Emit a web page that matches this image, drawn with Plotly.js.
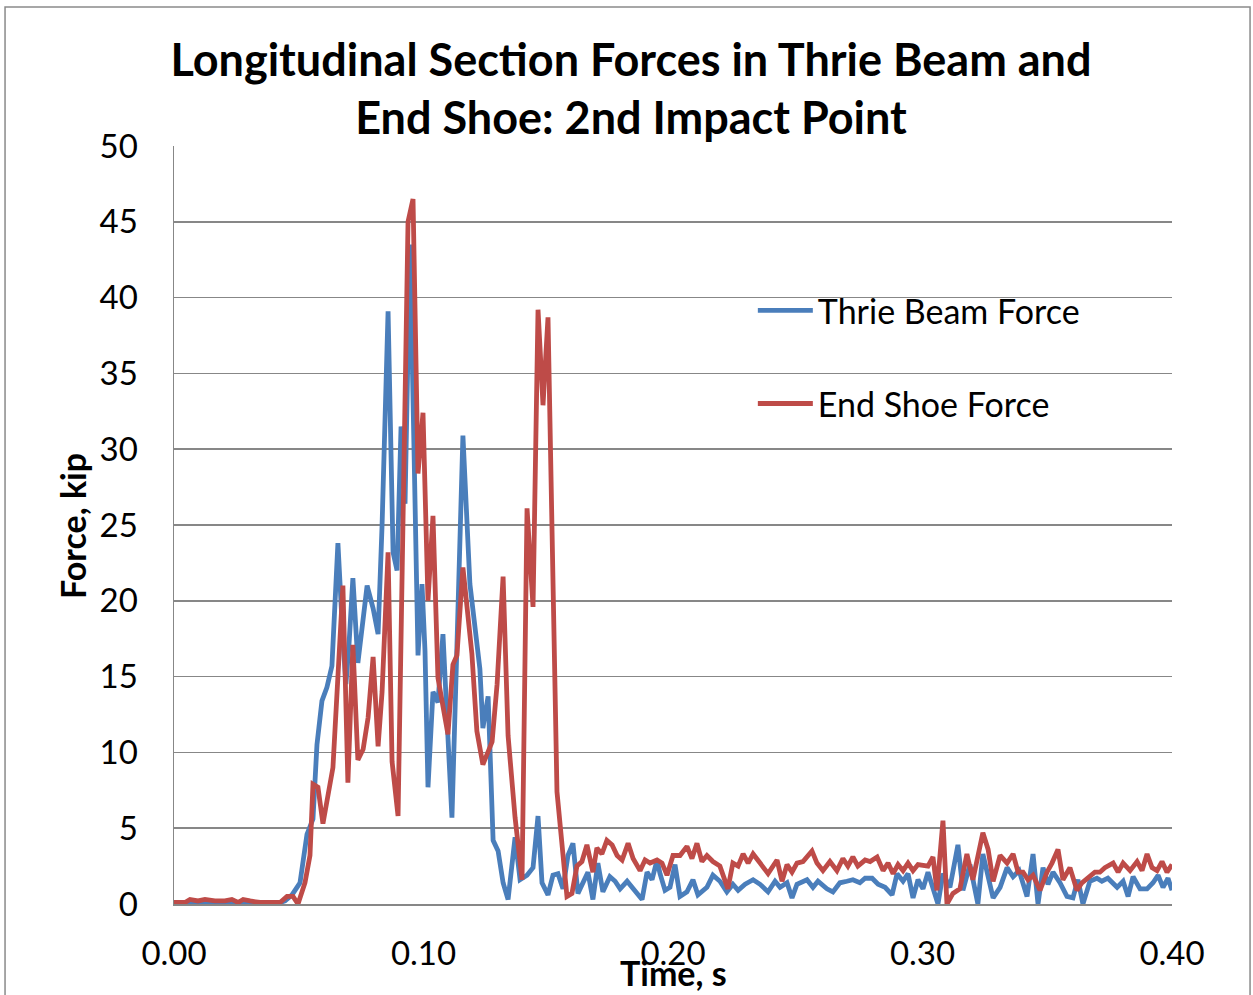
<!DOCTYPE html>
<html>
<head>
<meta charset="utf-8">
<script src="https://cdn.plot.ly/plotly-3.0.1.min.js"></script>
<style>html,body{margin:0;padding:0;background:#fff;}#chart{width:1253px;height:995px;}</style>
</head>
<body>
<div id="chart"></div>
<script>
// ---- Data ----
const chartTitle = "Longitudinal Section Forces in Thrie Beam and<br>End Shoe: 2nd Impact Point";
const xAxisTitle = "Time, s";
const yAxisTitle = "Force, kip";
const seriesNames = ["Thrie Beam Force", "End Shoe Force"];
const xTickVals = [0, 0.1, 0.2, 0.3, 0.4];
const xTickText = ["0.00", "0.10", "0.20", "0.30", "0.40"];
const yTickVals = [0, 5, 10, 15, 20, 25, 30, 35, 40, 45, 50];

const timeThrie = [0,0.0044,0.0084,0.0124,0.0164,0.0204,0.0244,0.0285,0.0325,0.0365,0.0405,0.0445,0.0473,0.0505,0.0533,0.0557,0.0573,0.0593,0.0613,0.0633,0.0657,0.0677,0.0689,0.0701,0.0717,0.0737,0.0754,0.0774,0.0798,0.0818,0.0834,0.0858,0.0878,0.0894,0.0910,0.0926,0.0946,0.0962,0.0978,0.0994,0.1006,0.1018,0.1038,0.1058,0.1078,0.1098,0.1114,0.1134,0.1158,0.1186,0.1226,0.1238,0.1259,0.1279,0.1299,0.1319,0.1339,0.1367,0.1387,0.1415,0.1439,0.1459,0.1475,0.1499,0.1519,0.1539,0.1559,0.1579,0.1599,0.1619,0.1639,0.1659,0.1679,0.1699,0.1719,0.1747,0.1768,0.1788,0.1816,0.1840,0.1876,0.1896,0.1916,0.1936,0.1948,0.1968,0.1988,0.2008,0.2028,0.2056,0.2080,0.2100,0.2136,0.2160,0.2188,0.2216,0.2240,0.2261,0.2289,0.2321,0.2349,0.2381,0.2409,0.2429,0.2457,0.2477,0.2497,0.2537,0.2561,0.2581,0.2617,0.2641,0.2669,0.2697,0.2721,0.2749,0.2770,0.2798,0.2822,0.2850,0.2878,0.2898,0.2922,0.2942,0.2962,0.2982,0.3002,0.3022,0.3062,0.3082,0.3110,0.3142,0.3162,0.3190,0.3222,0.3242,0.3263,0.3283,0.3311,0.3339,0.3363,0.3387,0.3419,0.3443,0.3463,0.3483,0.3503,0.3523,0.3551,0.3579,0.3603,0.3623,0.3643,0.3671,0.3699,0.3719,0.3743,0.3780,0.3804,0.3824,0.3844,0.3872,0.3900,0.3924,0.3944,0.3964,0.3984,0.4000];
const forceThrie = [0.1,0.0,0.1,0.05,0.1,0.0,0.1,0.05,0.0,0.05,0.0,0.2,0.6,1.4,4.6,5.6,10.5,13.4,14.3,15.7,23.8,17.5,14.5,17,21.5,15.9,18,21.0,19.5,17.8,25,39.1,23.2,22,31.5,26.4,43.5,28,16.4,21.1,16.7,7.7,14,13.3,17.8,11,5.7,17,30.9,21.1,15.5,11.6,13.7,4.2,3.5,1.4,0.3,4.4,1.6,1.9,2.4,5.8,1.4,0.6,1.9,2,1,3.2,4,0.7,1.4,2.1,0.3,2.7,0.8,1.8,1.5,1,1.5,1,0.3,2.1,1.6,2.9,2,0.9,1.1,2.6,0.5,0.8,1.6,0.6,1.1,1.9,1.5,0.8,1.3,0.9,1.3,1.6,1.3,0.8,1.5,1.1,1.4,0.4,1.3,1.6,1.1,1.5,1,0.8,1.4,1.5,1.6,1.4,1.7,1.7,1.3,1.1,0.6,2,1.5,2,0.4,1.6,1,2.1,0,2,1.1,3.9,0.9,2.6,0,3.3,1.9,0.4,1.1,2.4,1.8,2.2,0.5,3.3,0,2.4,1.3,2.1,1.4,0.5,0.4,1.6,0,1.5,1.7,1.5,1.7,1.1,1.5,0.5,1.8,1,1,1.4,1.9,1.1,1.7,0.9];

const timeShoe = [0,0.0044,0.0064,0.0096,0.0124,0.0164,0.0204,0.0232,0.0257,0.0277,0.0305,0.0345,0.0385,0.0425,0.0453,0.0477,0.0497,0.0525,0.0545,0.0557,0.0577,0.0597,0.0637,0.0677,0.0697,0.0717,0.0737,0.0758,0.0778,0.0798,0.0818,0.0834,0.0858,0.0874,0.0898,0.0922,0.0938,0.0958,0.0978,0.0998,0.1018,0.1038,0.1058,0.1098,0.1118,0.1134,0.1158,0.1194,0.1214,0.1238,0.1275,0.1295,0.1319,0.1339,0.1367,0.1395,0.1415,0.1439,0.1459,0.1479,0.1499,0.1535,0.1575,0.1595,0.1615,0.1635,0.1655,0.1679,0.1695,0.1715,0.1735,0.1756,0.1776,0.1796,0.1820,0.1840,0.1868,0.1888,0.1908,0.1936,0.1956,0.1976,0.2000,0.2028,0.2056,0.2076,0.2096,0.2116,0.2136,0.2160,0.2188,0.2220,0.2240,0.2261,0.2281,0.2301,0.2321,0.2349,0.2381,0.2417,0.2437,0.2457,0.2477,0.2497,0.2521,0.2557,0.2577,0.2601,0.2629,0.2657,0.2681,0.2701,0.2721,0.2741,0.2770,0.2790,0.2818,0.2842,0.2862,0.2882,0.2902,0.2922,0.2942,0.2962,0.2982,0.3022,0.3042,0.3058,0.3082,0.3098,0.3122,0.3150,0.3178,0.3202,0.3242,0.3263,0.3283,0.3311,0.3339,0.3363,0.3383,0.3403,0.3423,0.3443,0.3471,0.3499,0.3519,0.3543,0.3563,0.3591,0.3619,0.3639,0.3663,0.3691,0.3711,0.3731,0.3764,0.3784,0.3804,0.3832,0.3860,0.3880,0.3900,0.3920,0.3940,0.3960,0.3980,0.4000];
const forceShoe = [0.1,0.1,0.3,0.2,0.3,0.2,0.2,0.3,0.1,0.3,0.2,0.1,0.1,0.1,0.5,0.5,0,1.4,3.2,7.9,7.7,5.3,9,21,8,17.1,9.5,10.2,12.3,16.3,10.4,14,23.2,9.4,5.8,30,45,46.5,28.4,32.4,20,25.6,14.9,11.2,15.8,16.4,22.2,16.5,11.4,9.2,10.7,14.5,21.6,11.1,5.7,1.6,26.1,19.6,39.2,32.9,38.7,7.4,0.5,0.7,2.5,2.8,3.9,2.1,3.7,3.3,4.2,3.9,3.2,2.9,4,3,2.2,2.9,2.7,2.9,2.7,1.9,3.2,3.2,3.8,3,4,2.8,3.2,2.8,2.5,1,2.7,2.5,3.3,2.7,3.3,2.7,2,2.9,1.5,2.6,2.1,2.7,2.8,3.5,2.7,2.2,2.8,2.2,3,2.5,3.1,2.5,2.9,2.8,3.1,2.2,2.7,2,2.6,2.2,2.7,2.2,2.6,2.5,3.1,0.9,5.5,0,0.7,1,3.3,1.6,4.7,3.6,1.5,3.2,2.7,3.3,2.1,2.1,1.6,1.9,0.9,2.1,2.7,3.6,1.6,2.4,0.9,1.4,1.7,2.1,2.1,2.4,2.7,2.1,2.7,2.2,2.8,2.2,3.3,2.4,2.2,2.8,2.1,2.6];

// ---- Styles ----
const blue = "#4A7EBB";
const red = "#BE4B48";
const gridColor = "#878787";
const fontFamily = "Lato, 'Open Sans', sans-serif";

const traces = [
  {x: timeThrie, y: forceThrie, name: seriesNames[0], type: "scatter", mode: "lines",
   line: {color: blue, width: 4.8}, legendgroup: "a"},
  {x: timeShoe, y: forceShoe, name: seriesNames[1], type: "scatter", mode: "lines",
   line: {color: red, width: 4.8}, legendgroup: "b"}
];

const layout = {
  width: 1253, height: 995,
  margin: {l: 174, r: 81, t: 146, b: 91, pad: 0},
  paper_bgcolor: "#fff", plot_bgcolor: "#fff",
  font: {family: fontFamily, color: "#000", size: 33},
  title: {text: "<b>" + chartTitle + "</b>", font: {family: fontFamily, size: 45, color: "#000"},
          x: 0.5036, xref: "container", xanchor: "center", y: 0.924, yref: "container", yanchor: "top"},
  showlegend: true,
  legend: {x: 0.58, y: 0.821, xanchor: "left", yanchor: "top", bgcolor: "rgba(0,0,0,0)",
           font: {family: fontFamily, size: 34, color: "#000"}, tracegroupgap: 46, itemwidth: 55},
  xaxis: {range: [0, 0.4], tickvals: xTickVals, ticktext: xTickText, showgrid: false, zeroline: false,
          showline: true, linecolor: gridColor, linewidth: 1.5, ticks: "outside", ticklen: 20,
          tickcolor: "rgba(0,0,0,0)", tickfont: {size: 33, family: fontFamily}, fixedrange: true},
  yaxis: {range: [0, 50], tickvals: yTickVals, showgrid: true, gridcolor: gridColor, gridwidth: 1.5,
          zeroline: false, showline: true, linecolor: gridColor, linewidth: 1.5, ticks: "outside",
          ticklen: 28, tickcolor: "rgba(0,0,0,0)", tickfont: {size: 33, family: fontFamily}, fixedrange: true},
  annotations: [
    {text: "<b>" + xAxisTitle + "</b>", xref: "paper", yref: "paper", x: (673-174)/998, y: (904-972)/758,
     xanchor: "center", yanchor: "middle", showarrow: false, font: {size: 34, family: fontFamily}},
    {text: "<b>" + yAxisTitle + "</b>", xref: "paper", yref: "paper", x: (72-174)/998, y: (904-526)/758,
     xanchor: "center", yanchor: "middle", textangle: -90, showarrow: false, font: {size: 34, family: fontFamily}}
  ],
  shapes: [
    {type: "rect", xref: "paper", yref: "paper", x0: -0.1693, x1: 1.0782, y0: -0.1266, y1: 1.1834,
     line: {color: "#8a8a8a", width: 1.5}, fillcolor: "rgba(0,0,0,0)", layer: "below"}
  ]
};

Plotly.newPlot("chart", traces, layout, {displayModeBar: false, staticPlot: true});
</script>
</body>
</html>
